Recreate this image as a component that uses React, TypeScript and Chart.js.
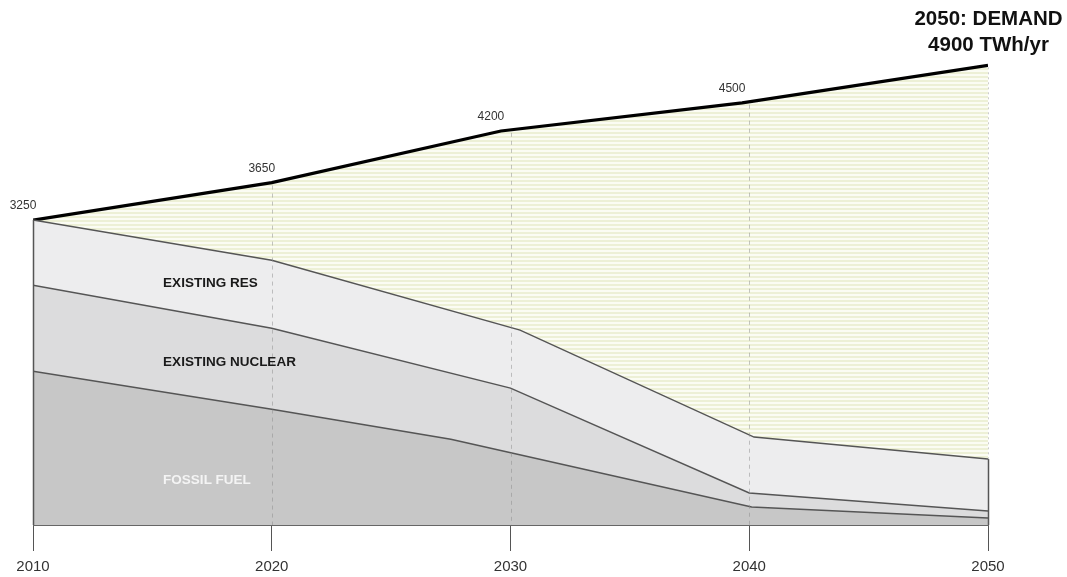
import React, { useEffect, useRef } from 'react';
import { Chart, registerables } from 'chart.js';
Chart.register(...registerables);

// ---- data (TWh/yr) ----
const demandYears = [2010, 2020, 2029.6, 2039.7, 2050];
const demandValues = [3250, 3650, 4200, 4500, 4900];
const demandLabels = ['3250', '3650', '4200', '4500', ''];
const resYears = [2010, 2020, 2030.4, 2040.2, 2050];
const resTop = [3250, 2822, 2077, 937, 703];
const nuclearYears = [2010, 2020, 2030, 2040, 2050];
const nuclearTop = [2556, 2098, 1459, 341, 149];
const fossilYears = [2010, 2020, 2027.5, 2040.1, 2050];
const fossilTop = [1640, 1235, 915, 192, 75];
const xTickLabels = ['2010', '2020', '2030', '2040', '2050'];
const gridYears = [2020, 2030, 2040];
const areaLabels = ['EXISTING RES', 'EXISTING NUCLEAR', 'FOSSIL FUEL'];
const areaLabelYears = [2015.45, 2015.45, 2015.45];
const areaLabelValues = [2577, 1736, 479];
const titleLines = ['2050: DEMAND', '4900 TWh/yr'];

const FONT = '"Liberation Sans", Arial, Helvetica, sans-serif';

function interp(xs: number[], ys: number[], x: number) {
  for (let i = 0; i < xs.length - 1; i++) {
    if (x >= xs[i] && x <= xs[i + 1]) {
      const t = (x - xs[i]) / (xs[i + 1] - xs[i]);
      return ys[i] + t * (ys[i + 1] - ys[i]);
    }
  }
  return x < xs[0] ? ys[0] : ys[ys.length - 1];
}

const pts = (xs: number[], ys: number[]) => xs.map((x, i) => ({ x, y: ys[i] }));

function makePattern(): CanvasPattern | string {
  const c = document.createElement('canvas');
  c.width = 4;
  c.height = 4;
  const g = c.getContext('2d');
  if (!g) return '#f5f7e4';
  g.fillStyle = '#fbfcf3';
  g.fillRect(0, 0, 4, 4);
  g.fillStyle = '#edf0d6';
  g.fillRect(0, 0, 4, 2);
  const p = g.createPattern(c, 'repeat');
  return p || '#f5f7e4';
}

const overlayPlugin = {
  id: 'overlay',
  afterDatasetsDraw(chart: any) {
    const ctx = chart.ctx;
    const xs = chart.scales.x;
    const ys = chart.scales.y;
    const base = ys.getPixelForValue(0);
    ctx.save();
    // dashed vertical guides
    ctx.strokeStyle = 'rgba(140,140,140,0.5)';
    ctx.lineWidth = 1;
    ctx.setLineDash([4, 4]);
    gridYears.forEach((yr) => {
      const px = Math.round(xs.getPixelForValue(yr)) + 0.5;
      ctx.beginPath();
      ctx.moveTo(px, ys.getPixelForValue(interp(demandYears, demandValues, yr)) + 3);
      ctx.lineTo(px, base);
      ctx.stroke();
    });
    // 2050 edge: dotted light above RES, solid below
    const x50 = Math.round(xs.getPixelForValue(2050)) + 0.5;
    const res50 = ys.getPixelForValue(interp(resYears, resTop, 2050));
    ctx.setLineDash([2, 3]);
    ctx.strokeStyle = 'rgba(170,170,170,0.6)';
    ctx.beginPath();
    ctx.moveTo(x50, ys.getPixelForValue(4900) + 2);
    ctx.lineTo(x50, res50);
    ctx.stroke();
    ctx.setLineDash([]);
    ctx.strokeStyle = '#555';
    ctx.lineWidth = 1.5;
    ctx.beginPath();
    ctx.moveTo(x50, res50);
    ctx.lineTo(x50, base);
    ctx.stroke();
    // 2010 left edge
    const x10 = Math.round(xs.getPixelForValue(2010)) + 0.5;
    ctx.beginPath();
    ctx.moveTo(x10, ys.getPixelForValue(3250));
    ctx.lineTo(x10, base);
    ctx.stroke();

    // area labels
    ctx.textBaseline = 'middle';
    ctx.textAlign = 'left';
    ctx.font = `bold 13.5px ${FONT}`;
    areaLabels.forEach((t, i) => {
      ctx.fillStyle = i === 2 ? '#f4f4f4' : '#1a1a1a';
      ctx.fillText(t, xs.getPixelForValue(areaLabelYears[i]), ys.getPixelForValue(areaLabelValues[i]));
    });

    // demand value labels
    ctx.font = `12px ${FONT}`;
    ctx.fillStyle = '#333';
    ctx.textAlign = 'center';
    demandLabels.forEach((t, i) => {
      if (!t) return;
      const px = xs.getPixelForValue(demandYears[i]);
      const py = ys.getPixelForValue(demandValues[i]);
      ctx.fillText(t, px - 10, py - 14);
    });

    // title at 2050
    ctx.font = `bold 20.5px ${FONT}`;
    ctx.fillStyle = '#111';
    ctx.textAlign = 'center';
    ctx.textBaseline = 'alphabetic';
    titleLines.forEach((t, i) => {
      ctx.fillText(t, x50, 25 + i * 26);
    });
    ctx.restore();
  },
};

export default function App() {
  const ref = useRef<HTMLCanvasElement | null>(null);
  useEffect(() => {
    document.body.style.margin = '0';
    const canvas = ref.current;
    if (!canvas) return;
    const pattern = makePattern();
    const border = '#555';
    const chart = new Chart(canvas, {
      type: 'line',
      data: {
        datasets: [
          {
            label: 'Fossil fuel',
            data: pts(fossilYears, fossilTop),
            borderColor: border,
            borderWidth: 1.5,
            backgroundColor: '#c7c7c7',
            fill: 'origin',
          },
          {
            label: 'Existing nuclear',
            data: pts(nuclearYears, nuclearTop),
            borderColor: border,
            borderWidth: 1.5,
            backgroundColor: '#dcdcdd',
            fill: '-1',
          },
          {
            label: 'Existing RES',
            data: pts(resYears, resTop),
            borderColor: border,
            borderWidth: 1.5,
            backgroundColor: '#ededee',
            fill: '-1',
          },
          {
            label: 'Demand',
            data: pts(demandYears, demandValues),
            borderColor: '#000',
            borderWidth: 3.2,
            backgroundColor: pattern as any,
            fill: '-1',
          },
        ],
      },
      options: {
        responsive: false,
        maintainAspectRatio: false,
        animation: false,
        layout: { padding: { left: 33, right: 79, top: 9, bottom: -5 } },
        elements: { point: { radius: 0 }, line: { tension: 0 } },
        plugins: { legend: { display: false }, tooltip: { enabled: false } },
        scales: {
          x: {
            type: 'linear',
            min: 2010,
            max: 2050,
            afterBuildTicks: (axis: any) => {
              axis.ticks = xTickLabels.map((t) => ({ value: Number(t) }));
            },
            ticks: {
              callback: (v: any) => String(v),
              color: '#333',
              font: { size: 15, family: FONT },
              padding: 6.5,
              maxRotation: 0,
              autoSkip: false,
            },
            grid: {
              drawOnChartArea: false,
              drawTicks: true,
              tickLength: 26,
              color: '#555',
              lineWidth: 1,
            },
            border: { display: true, color: '#666', width: 1 },
          },
          y: { display: false, min: 0, max: 5500 },
        },
      },
      plugins: [overlayPlugin],
    });
    return () => chart.destroy();
  }, []);
  return (
    <div style={{ width: 1067, height: 577, background: '#fff' }}>
      <canvas ref={ref} width={1067} height={577} style={{ display: 'block' }} />
    </div>
  );
}
